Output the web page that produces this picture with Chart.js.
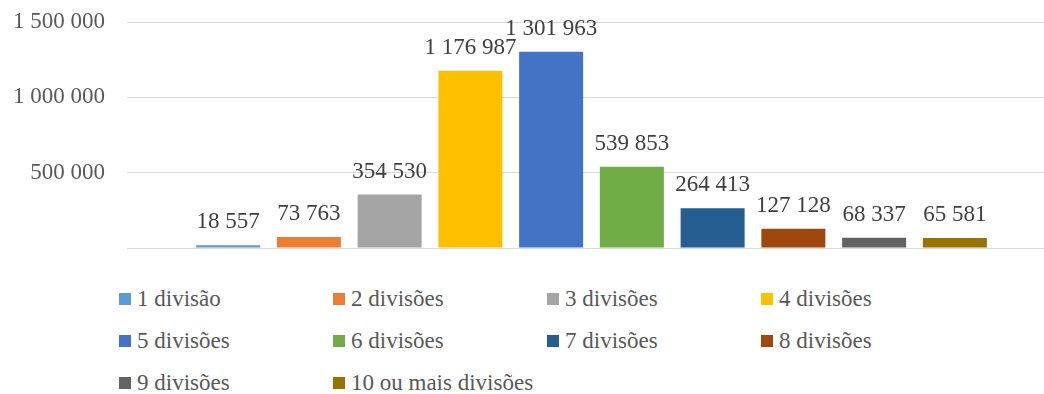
<!DOCTYPE html>
<html>
<head>
<meta charset="utf-8">
<script src="https://cdn.jsdelivr.net/npm/chart.js@4/dist/chart.umd.min.js"></script>
<style>
  html, body { margin: 0; padding: 0; background: #fff; overflow: hidden; }
  #wrap { position: relative; width: 1044px; height: 394px; overflow: hidden; }
  #bars { position: absolute; left: 0; top: 0; }
  #legend {
    position: absolute; left: 119px; top: 278px;
    display: grid; grid-template-columns: repeat(4, 214px);
    font-family: "Liberation Serif", "DejaVu Serif", "Times New Roman", Times, serif;
    font-size: 23px; color: #595959;
  }
  #legend .item { height: 42px; line-height: 42px; white-space: nowrap; display: flex; align-items: center; }
  #legend .box { width: 12px; height: 12px; margin-right: 6px; flex: none; }
</style>
</head>
<body>
<div id="wrap">
  <canvas id="bars" width="1056" height="262"></canvas>
  <div id="legend"></div>
</div>
<script>
"use strict";

var seriesNames = ["1 divisão", "2 divisões", "3 divisões", "4 divisões", "5 divisões",
  "6 divisões", "7 divisões", "8 divisões", "9 divisões", "10 ou mais divisões"];
var seriesValues = [18557, 73763, 354530, 1176987, 1301963, 539853, 264413, 127128, 68337, 65581];
var seriesColors = ["#5B9BD5", "#ED7D31", "#A5A5A5", "#FFC000", "#4472C4",
  "#70AD47", "#255E91", "#9E480E", "#636363", "#997300"];
var yTicks = [0, 500000, 1000000, 1500000];

var FONT = "'Liberation Serif', 'DejaVu Serif', 'Times New Roman', Times, serif";

// 1 234 567 style grouping
function fmt(n) {
  return String(n).replace(/\B(?=(\d{3})+(?!\d))/g, " ");
}

// value printed above each bar
var valueLabels = {
  id: "valueLabels",
  afterDatasetsDraw(chart) {
    var ctx = chart.ctx;
    ctx.save();
    ctx.font = "23px " + FONT;
    ctx.fillStyle = "#404040";
    ctx.textAlign = "center";
    ctx.textBaseline = "alphabetic";
    chart.data.datasets.forEach((ds, i) => {
      var bar = chart.getDatasetMeta(i).data[0];
      if (!bar) return;
      ctx.fillText(fmt(ds.data[0]), bar.x, bar.y - 17);
    });
    ctx.restore();
  },
};

var datasets = seriesNames.map((name, i) => ({
  label: name,
  data: [seriesValues[i]],
  backgroundColor: seriesColors[i],
  barPercentage: 0.7926,
  categoryPercentage: 0.8692,
}));

var chart = new Chart(document.getElementById("bars").getContext("2d"), {
  type: "bar",
  data: { labels: [""], datasets: datasets },
  options: {
    responsive: false,
    animation: false,
    devicePixelRatio: 1,
    layout: { padding: { top: 22, bottom: 14, left: 0, right: 0 } },
    plugins: { legend: { display: false }, tooltip: { enabled: false } },
    scales: {
      x: {
        ticks: { display: false },
        grid: { display: false },
        border: { display: true, color: "#d9d9d9", width: 1 },
        afterFit(scale) { scale.height = 0; },
      },
      y: {
        min: 0,
        max: 1500000,
        afterFit(scale) {
          scale.width = 127;
          // labels may overhang the plot; don't let them shrink it
          scale.paddingTop = 0;
          scale.paddingBottom = 0;
        },
        afterBuildTicks(scale) { scale.ticks = yTicks.map((v) => ({ value: v })); },
        ticks: {
          padding: 22,
          color: "#595959",
          font: { family: FONT, size: 23 },
          callback: (v) => (v === 0 ? "" : fmt(v)),
        },
        grid: { color: "#d9d9d9", lineWidth: 1, drawTicks: false },
        border: { display: false },
      },
    },
  },
  plugins: [valueLabels],
});

// legend laid out in a fixed 4-column grid
var legend = document.getElementById("legend");
seriesNames.forEach((name, i) => {
  var item = document.createElement("div");
  item.className = "item";
  var box = document.createElement("span");
  box.className = "box";
  box.style.background = seriesColors[i];
  item.appendChild(box);
  item.appendChild(document.createTextNode(name));
  legend.appendChild(item);
});
</script>
</body>
</html>
